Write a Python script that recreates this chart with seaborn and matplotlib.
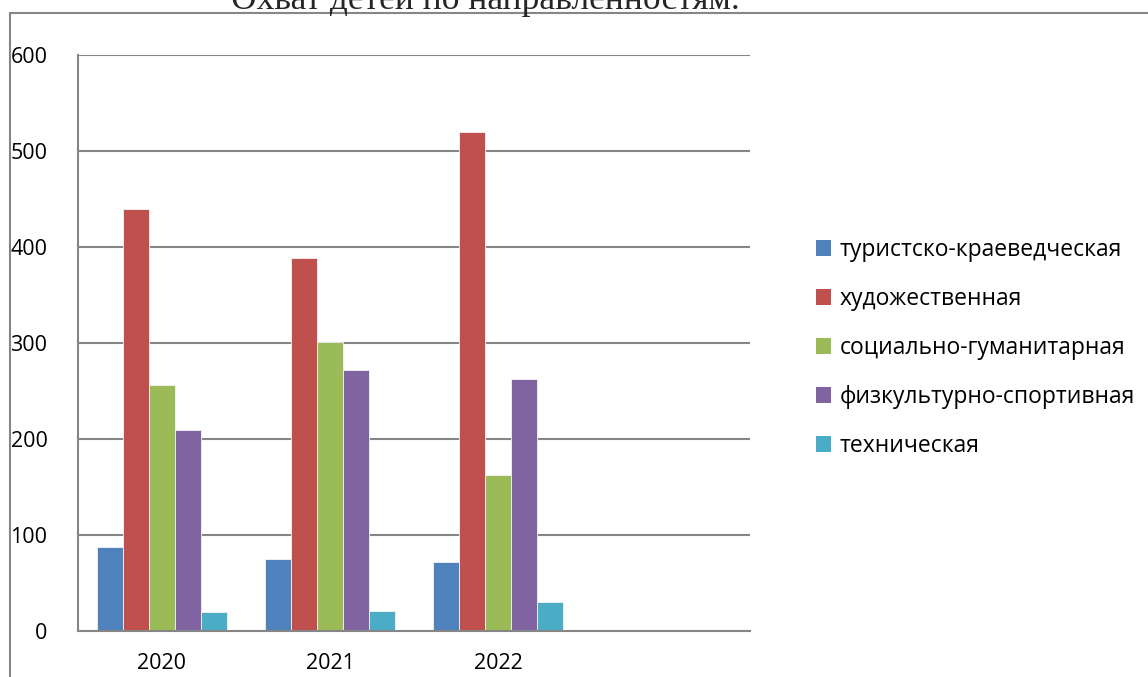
import pandas as pd
import matplotlib.pyplot as plt
import seaborn as sns
from matplotlib.patches import Rectangle, Patch

# --- data ---
years = ["2020", "2021", "2022", ""]
directions = ["туристско-краеведческая", "художественная", "социально-гуманитарная",
              "физкультурно-спортивная", "техническая"]
tourism = [88, 75, 72]
art = [440, 389, 520]
social = [256, 301, 162]
sport = [209, 272, 262]
tech = [20, 21, 30]
colors = ["#4F81BD", "#C0504D", "#9BBB59", "#8064A2", "#4BACC6"]

rows = []
for name, vals in zip(directions, [tourism, art, social, sport, tech]):
    for y, v in zip(years[:3], vals):
        rows.append({"Год": y, "Направленность": name, "Дети": v})
df = pd.DataFrame(rows)

sns.set_style("white")
plt.rcParams["font.family"] = ["Open Sans", "DejaVu Sans"]

W, H = 1148, 677
fig = plt.figure(figsize=(W / 100, H / 100), dpi=100)
ax = fig.add_axes([78 / W, (H - 631) / H, (750 - 78) / W, (631 - 55) / H])

sns.barplot(data=df, x="Год", y="Дети", hue="Направленность", order=years,
            hue_order=directions, palette=colors, saturation=1, width=0.774, ax=ax,
            edgecolor="#f4f4f4", linewidth=0.6, legend=False, errorbar=None)

ax.set_xlim(-0.5, 3.5)
ax.set_ylim(0, 600)
ax.set_yticks(range(0, 601, 100))
ax.yaxis.grid(True, color="#868686", linewidth=1.5)
ax.set_axisbelow(True)
ax.set_xlabel("")
ax.set_ylabel("")
for s in ["top", "right"]:
    ax.spines[s].set_visible(False)
for s in ["left", "bottom"]:
    ax.spines[s].set_color("#868686")
    ax.spines[s].set_linewidth(1.5)

ax.set_xticks([0, 1, 2])
ax.set_xticklabels(years[:3])
ax.set_xticks([-0.5, 0.5, 1.5, 2.5, 3.5], minor=True)
ax.tick_params(axis="x", which="major", length=0, pad=16, labelsize=15.5, labelcolor="black")
ax.tick_params(axis="x", which="minor", length=7, width=1.5, color="#868686", direction="out")
ax.tick_params(axis="y", length=7, width=1.5, color="#868686", direction="out", pad=15,
               labelsize=15.5, labelcolor="black")

handles = [Patch(facecolor=c, edgecolor="none") for c in colors]
fig.legend(handles, directions, loc="center left", bbox_to_anchor=(795 / W, 1 - 348 / H),
           frameon=False, fontsize=16.5, handlelength=0.65, handleheight=0.65,
           handletextpad=0.4, labelspacing=1.09, labelcolor="black")

# cut-off title at the very top
fig.text(485 / W, 1 - 9 / H, "Охват детей по направленностям.", ha="center", va="baseline",
         fontsize=25.5, family=["Liberation Serif", "DejaVu Serif"])

# chart frame
fig.patches.append(Rectangle((10 / W, -0.1), 1.2, 1.1 - 13 / H, transform=fig.transFigure,
                             fill=False, edgecolor="#868686", linewidth=1.5, figure=fig))

fig.savefig("out.png", dpi=100)
